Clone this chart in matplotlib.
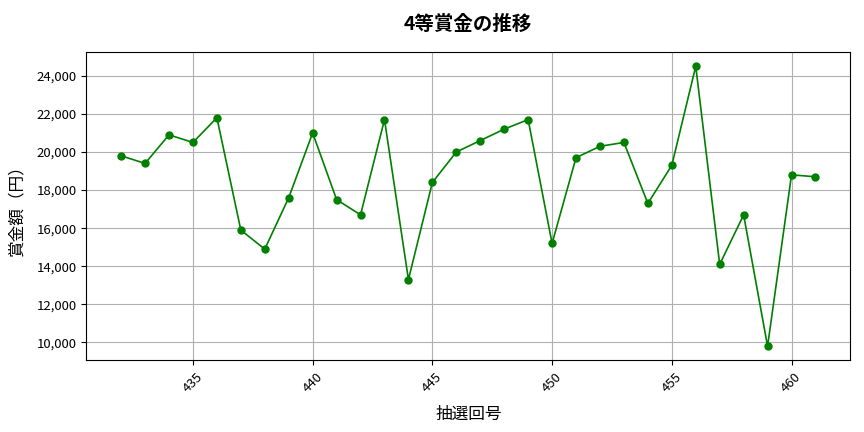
import matplotlib
matplotlib.use("Agg")
import matplotlib.pyplot as plt
from matplotlib.ticker import FuncFormatter

plt.rcParams['font.family'] = ['Noto Sans CJK JP', 'DejaVu Sans']

draws = list(range(432, 462))
prizes = [19800, 19400, 20900, 20500, 21800, 15900, 14900, 17600, 21000, 17500,
          16700, 21700, 13300, 18400, 20000, 20600, 21200, 21700, 15200, 19700,
          20300, 20500, 17300, 19300, 24500, 14100, 16700, 9800, 18800, 18700]

title = '4等賞金の推移'
xlabel = '抽選回号'
ylabel = '賞金額（円）'

fig, ax = plt.subplots(figsize=(8.64, 4.32), dpi=100)
ax.plot(draws, prizes, color='green', marker='o', markersize=5, linewidth=1.2)
ax.set_title(title, fontsize=14, fontweight='bold', pad=16)
ax.set_xlabel(xlabel, fontsize=12, labelpad=8)
ax.set_ylabel(ylabel, fontsize=12, labelpad=8)
ax.yaxis.set_major_formatter(FuncFormatter(lambda v, p: f'{int(v):,}'))
ax.grid(True, color='#b0b0b0', linewidth=0.8)
plt.setp(ax.get_xticklabels(), rotation=45)
ax.tick_params(labelsize=9.5)
fig.subplots_adjust(left=0.1, right=0.984, top=0.879, bottom=0.166)
fig.savefig('out.png', dpi=100)
